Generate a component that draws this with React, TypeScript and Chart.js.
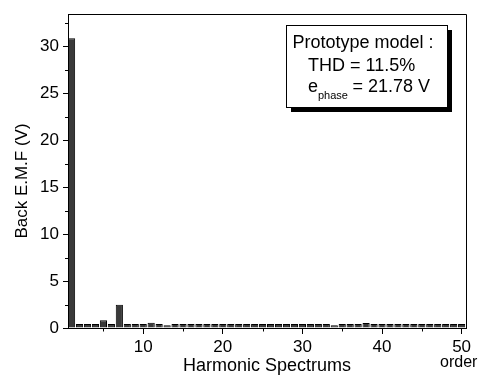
import React, { useEffect, useRef } from "react";
import { Chart, registerables } from "chart.js";

Chart.register(...registerables);

const harmonicOrders = [
  1, 2, 3, 4, 5, 6, 7, 8, 9, 10,
  11, 12, 13, 14, 15, 16, 17, 18, 19, 20,
  21, 22, 23, 24, 25, 26, 27, 28, 29, 30,
  31, 32, 33, 34, 35, 36, 37, 38, 39, 40,
  41, 42, 43, 44, 45, 46, 47, 48, 49, 50,
];

const backEmfValues = [
  30.85, 0.42, 0.42, 0.42, 0.83, 0.42, 2.47, 0.42, 0.42, 0.42,
  0.55, 0.42, 0.3, 0.42, 0.42, 0.42, 0.42, 0.42, 0.42, 0.42,
  0.42, 0.42, 0.42, 0.42, 0.42, 0.42, 0.42, 0.42, 0.42, 0.42,
  0.42, 0.42, 0.42, 0.3, 0.42, 0.42, 0.42, 0.52, 0.42, 0.42,
  0.42, 0.42, 0.42, 0.42, 0.42, 0.42, 0.42, 0.42, 0.42, 0.42,
];

const xMajorTicks = [10, 20, 30, 40, 50];
const xMinorTicks = [5, 15, 25, 35, 45];
const yMajorTicks = [0, 5, 10, 15, 20, 25, 30];
const yMinorTicks = [2.5, 7.5, 12.5, 17.5, 22.5, 27.5, 32.5];

const xTitle = "Harmonic Spectrums";
const yTitle = "Back E.M.F (V)";
const unitLabel = "order";
const boxLine1 = "Prototype model :";
const boxLine2 = "THD = 11.5%";
const boxLine3a = "e";
const boxLine3sub = "phase";
const boxLine3b = "= 21.78 V";

const FONT = "'Liberation Sans', Arial, sans-serif";

const decorPlugin = {
  id: "decor",
  afterDraw(chart: any) {
    const ctx = chart.ctx;
    const area = chart.chartArea;
    const xs = chart.scales.x;
    const ys = chart.scales.y;
    ctx.save();
    ctx.strokeStyle = "#000";
    ctx.lineWidth = 1;
    // frame top & right
    ctx.beginPath();
    ctx.moveTo(Math.round(area.left) + 0.5, Math.round(area.top) + 0.5);
    ctx.lineTo(Math.round(area.right) + 0.5, Math.round(area.top) + 0.5);
    ctx.lineTo(Math.round(area.right) + 0.5, Math.round(area.bottom) + 0.5);
    ctx.stroke();
    // minor ticks
    ctx.beginPath();
    for (const v of xMinorTicks) {
      const px = Math.round(xs.getPixelForValue(v)) + 0.5;
      ctx.moveTo(px, area.bottom);
      ctx.lineTo(px, area.bottom + 3.5);
    }
    for (const v of yMinorTicks) {
      const py = Math.round(ys.getPixelForValue(v)) + 0.5;
      ctx.moveTo(area.left, py);
      ctx.lineTo(area.left - 3, py);
    }
    ctx.stroke();

    // axis titles
    ctx.fillStyle = "#000";
    ctx.font = `18px ${FONT}`;
    ctx.textAlign = "center";
    ctx.textBaseline = "alphabetic";
    ctx.fillText(xTitle, (area.left + area.right) / 2, 371);
    ctx.save();
    ctx.translate(26.5, 181);
    ctx.rotate(-Math.PI / 2);
    ctx.font = `17px ${FONT}`;
    ctx.fillText(yTitle, 0, 0);
    ctx.restore();

    ctx.font = `16px ${FONT}`;
    ctx.textAlign = "left";
    ctx.fillText(unitLabel, 440, 367);

    // text box with shadow
    const bx = 286, by = 25, bw = 161, bh = 82;
    ctx.fillStyle = "#000";
    ctx.fillRect(bx + 5, by + 5, bw, bh);
    ctx.fillStyle = "#fff";
    ctx.fillRect(bx, by, bw, bh);
    ctx.strokeStyle = "#000";
    ctx.lineWidth = 1;
    ctx.strokeRect(bx + 0.5, by + 0.5, bw, bh);

    ctx.fillStyle = "#000";
    ctx.font = `18px ${FONT}`;
    ctx.textAlign = "left";
    ctx.fillText(boxLine1, 292.5, 48);
    ctx.fillText(boxLine2, 308, 70.5);
    ctx.fillText(boxLine3a, 308, 91.5);
    ctx.font = `11px ${FONT}`;
    ctx.fillText(boxLine3sub, 318, 99);
    ctx.font = `18px ${FONT}`;
    ctx.fillText(boxLine3b, 352.5, 91.5);
    ctx.restore();
  },
};

export default function App() {
  const canvasRef = useRef<HTMLCanvasElement | null>(null);

  useEffect(() => {
    if (!canvasRef.current) return;
    const chart = new Chart(canvasRef.current, {
      type: "bar",
      data: {
        datasets: [
          {
            data: harmonicOrders.map((h, i) => ({ x: h, y: backEmfValues[i] })),
            backgroundColor: "#3a3a3a",
            borderColor: "#000000",
            borderWidth: 1,
            barPercentage: 0.9,
            categoryPercentage: 1,
          },
        ],
      },
      options: {
        responsive: false,
        animation: false,
        events: [],
        layout: { padding: { top: 8, right: 12, left: 0, bottom: 0 } },
        plugins: {
          legend: { display: false },
          tooltip: { enabled: false },
          title: { display: false },
        },
        scales: {
          x: {
            type: "linear",
            offset: false,
            min: 0.55,
            max: 50.55,
            afterBuildTicks: (s: any) => {
              s.ticks = xMajorTicks.map((v) => ({ value: v }));
            },
            afterFit: (s: any) => {
              s.height = 51;
            },
            grid: {
              offset: false,
              drawOnChartArea: false,
              drawTicks: true,
              tickLength: 6,
              color: "#000",
              lineWidth: 1,
            },
            border: { display: true, color: "#000", width: 1 },
            ticks: {
              autoSkip: false,
              maxRotation: 0,
              padding: 3,
              color: "#000",
              font: { family: FONT, size: 17 },
              callback: (v: any) => String(v),
            },
          },
          y: {
            type: "linear",
            min: 0,
            max: 33.4,
            afterBuildTicks: (s: any) => {
              s.ticks = yMajorTicks.map((v) => ({ value: v }));
            },
            afterFit: (s: any) => {
              s.width = 68;
            },
            grid: {
              drawOnChartArea: false,
              drawTicks: true,
              tickLength: 5,
              color: "#000",
              lineWidth: 1,
            },
            border: { display: true, color: "#000", width: 1 },
            ticks: {
              padding: 4,
              color: "#000",
              font: { family: FONT, size: 17 },
              callback: (v: any) => String(v),
            },
          },
        },
      },
      plugins: [decorPlugin],
    } as any);
    return () => chart.destroy();
  }, []);

  return (
    <div style={{ position: "fixed", left: 0, top: 0, width: 478, height: 379, background: "#fff" }}>
      <canvas ref={canvasRef} width={478} height={379} style={{ display: "block" }} />
    </div>
  );
}
